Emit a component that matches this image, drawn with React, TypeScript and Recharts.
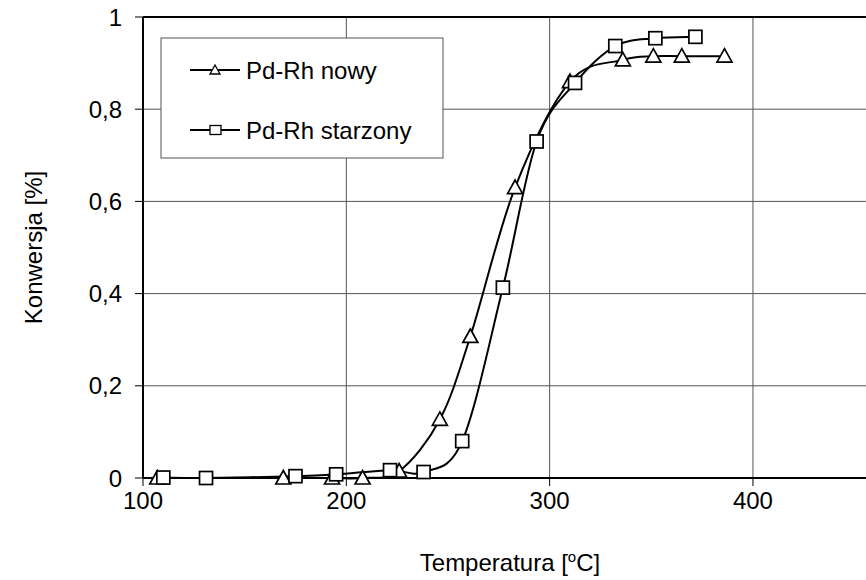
import React from "react";
import { LineChart, Line, XAxis, YAxis, CartesianGrid, ReferenceLine } from "recharts";

const T_NOWY = [107, 169, 193, 208, 226, 246, 261, 283, 310, 336, 351, 365, 386];
const V_NOWY = [0, 0, 0, 0, 0.015, 0.127, 0.307, 0.63, 0.86, 0.907, 0.915, 0.915, 0.915];
const T_STAR = [110, 131, 175, 195, 221.5, 238, 257, 277, 293.6, 312.5, 332.3, 352, 371.7];
const V_STAR = [0.001, 0, 0.004, 0.008, 0.017, 0.013, 0.08, 0.413, 0.73, 0.857, 0.937, 0.954, 0.957];
const X_TICKS = [100, 200, 300, 400];
const Y_TICKS = [0, 0.2, 0.4, 0.6, 0.8, 1];
const SERIES_NAMES = ["Pd-Rh nowy", "Pd-Rh starzony"];

const nowy = T_NOWY.map((t, i) => ({ t, v: V_NOWY[i] }));
const starzony = T_STAR.map((t, i) => ({ t, v: V_STAR[i] }));

const FONT = "'Liberation Sans', Arial, sans-serif";
const FS = 24;

// Excel-like smoothed curve (Catmull-Rom style bezier)
function excelCurve(context: any) {
  let pts: number[][] = [];
  return {
    areaStart() {},
    areaEnd() {},
    lineStart() {
      pts = [];
    },
    point(x: number, y: number) {
      pts.push([x, y]);
    },
    lineEnd() {
      if (!pts.length) return;
      context.moveTo(pts[0][0], pts[0][1]);
      for (let i = 0; i < pts.length - 1; i++) {
        const p0 = pts[i - 1] || pts[i];
        const p1 = pts[i];
        const p2 = pts[i + 1];
        const p3 = pts[i + 2] || pts[i + 1];
        const c1x = p1[0] + (p2[0] - p0[0]) / 6;
        const c1y = p1[1] + (p2[1] - p0[1]) / 6;
        const c2x = p2[0] - (p3[0] - p1[0]) / 6;
        const c2y = p2[1] - (p3[1] - p1[1]) / 6;
        context.bezierCurveTo(c1x, c1y, c2x, c2y, p2[0], p2[1]);
      }
    },
  };
}

const TriDot = (props: any) => {
  const { cx, cy, index } = props;
  if (cx == null || cy == null) return null;
  return (
    <polygon
      key={"t" + index}
      points={`${cx},${cy - 7.5} ${cx + 7.5},${cy + 6} ${cx - 7.5},${cy + 6}`}
      fill="#fff"
      stroke="#000"
      strokeWidth={1.7}
    />
  );
};

const SqDot = (props: any) => {
  const { cx, cy, index } = props;
  if (cx == null || cy == null) return null;
  return (
    <rect
      key={"s" + index}
      x={cx - 6.5}
      y={cy - 6.5}
      width={13}
      height={13}
      fill="#fff"
      stroke="#000"
      strokeWidth={1.7}
    />
  );
};

const fmtY = (v: number) => String(Math.round(v * 10) / 10).replace(".", ",");

const YLabel = (props: any) => {
  const { viewBox } = props;
  const cy = viewBox.y + viewBox.height / 2;
  return (
    <text
      x={33}
      y={cy}
      transform={`rotate(-90, 33, ${cy})`}
      textAnchor="middle"
      dominantBaseline="central"
      fontFamily={FONT}
      fontSize={FS}
      fill="#000"
    >
      Konwersja [%]
    </text>
  );
};

const XLabel = () => (
  <text x={510} y={571} textAnchor="middle" fontFamily={FONT} fontSize={FS} fill="#000">
    Temperatura [<tspan fontSize={15} dy={-9}>o</tspan>
    <tspan dy={9}>C]</tspan>
  </text>
);

const Legend = () => (
  <svg
    width={284}
    height={122}
    style={{ position: "absolute", left: 160, top: 37 }}
  >
    <rect x={1} y={1} width={282} height={120} fill="#fff" stroke="#555" strokeWidth={1} />
    <line x1={30} y1={33} x2={80} y2={33} stroke="#000" strokeWidth={2} />
    <polygon points="55,28 60,37 50,37" fill="#fff" stroke="#000" strokeWidth={1.3} />
    <text x={86} y={33} dominantBaseline="central" fontFamily={FONT} fontSize={FS} fill="#000">
      {SERIES_NAMES[0]}
    </text>
    <line x1={30} y1={93} x2={80} y2={93} stroke="#000" strokeWidth={2} />
    <rect x={50} y={88.5} width={11} height={9} fill="#fff" stroke="#000" strokeWidth={1.3} />
    <text x={86} y={93} dominantBaseline="central" fontFamily={FONT} fontSize={FS} fill="#000">
      {SERIES_NAMES[1]}
    </text>
  </svg>
);

export default function App() {
  return (
    <div style={{ position: "absolute", left: 0, top: 0, width: 866, height: 580, background: "#fff" }}>
      <LineChart width={866} height={580} margin={{ top: 17, right: 0, bottom: 0, left: 0 }}>
        <CartesianGrid
          horizontal={true}
          vertical={true}
          stroke="#555"
          strokeWidth={1}
          horizontalValues={[0.2, 0.4, 0.6, 0.8]}
          verticalValues={[200, 300, 400]}
        />
        <XAxis
          type="number"
          dataKey="t"
          domain={[100, 455.6]}
          ticks={X_TICKS}
          allowDataOverflow
          height={102}
          tickSize={8}
          tickMargin={6}
          axisLine={{ stroke: "#000", strokeWidth: 2 }}
          tickLine={{ stroke: "#000", strokeWidth: 1 }}
          tick={{ fill: "#000", fontFamily: FONT, fontSize: FS }}
          label={<XLabel />}
        />
        <YAxis
          type="number"
          domain={[0, 1]}
          ticks={Y_TICKS}
          width={143}
          tickSize={8}
          tickMargin={13}
          tickFormatter={fmtY}
          axisLine={{ stroke: "#000", strokeWidth: 2 }}
          tickLine={{ stroke: "#000", strokeWidth: 1 }}
          tick={{ fill: "#000", fontFamily: FONT, fontSize: FS }}
          label={<YLabel />}
        />
        <ReferenceLine y={1} stroke="#000" strokeWidth={2} />
        <Line
          data={nowy}
          dataKey="v"
          type={excelCurve as any}
          stroke="#000"
          strokeWidth={2}
          dot={<TriDot />}
          activeDot={false}
          isAnimationActive={false}
          name={SERIES_NAMES[0]}
        />
        <Line
          data={starzony}
          dataKey="v"
          type={excelCurve as any}
          stroke="#000"
          strokeWidth={2}
          dot={<SqDot />}
          activeDot={false}
          isAnimationActive={false}
          name={SERIES_NAMES[1]}
        />
      </LineChart>
      <Legend />
    </div>
  );
}
